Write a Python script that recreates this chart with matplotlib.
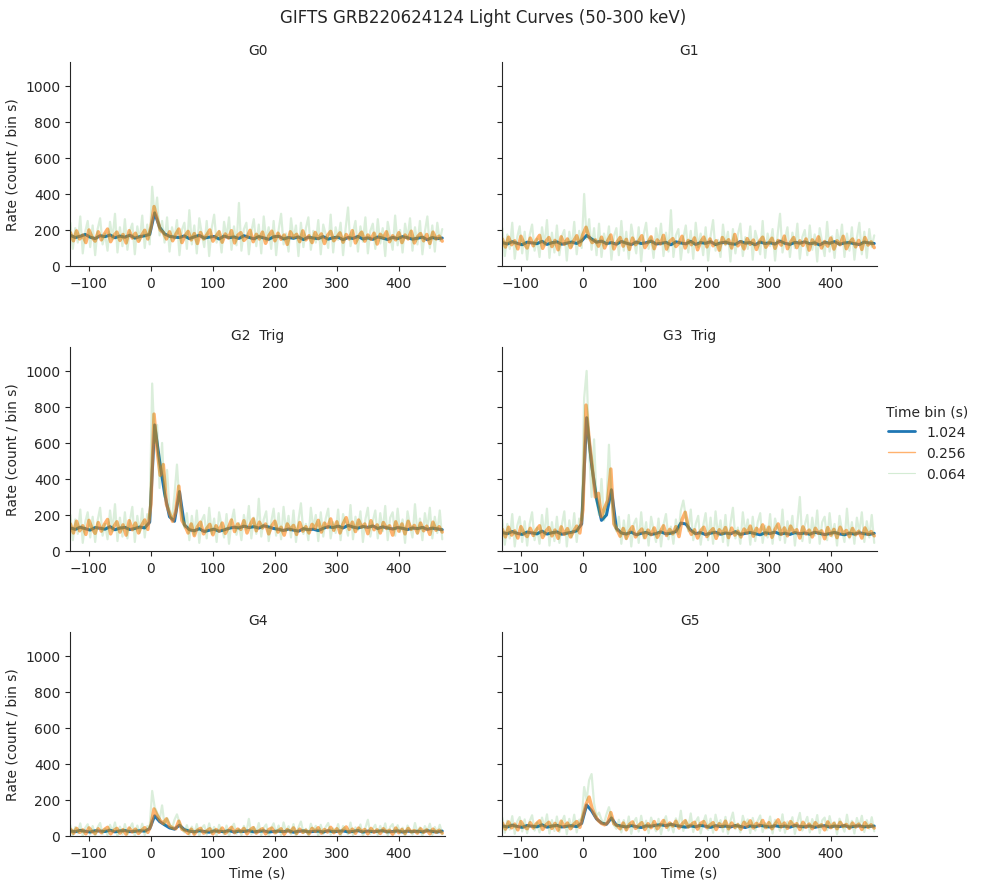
#!/usr/bin/env python3
"""Light-curve grid for GRB220624124 (GIFTS detectors G0-G5, 50-300 keV)."""

import matplotlib

matplotlib.use("Agg")
import matplotlib.pyplot as plt
import numpy as np
import seaborn as sns
from matplotlib.lines import Line2D

DETECTORS = ["G0", "G1", "G2", "G3", "G4", "G5"]
TRIGGERED = ["G2", "G3"]
BIN_LABELS = ["1.024", "0.256", "0.064"]

T_START = -130.0
T_STEP = {"1.024": 8.0, "0.256": 5.0, "0.064": 4.0}

# ---- G0 ----
G0_1024 = [170, 158, 165, 175, 160, 152, 168, 163, 172, 157,
           166, 160, 171, 155, 163, 168,
           175, 295, 215, 178, 165, 160,
           158, 167, 152, 162, 170, 155, 160, 164, 150, 166,
           157, 161, 153, 168, 159, 151, 163, 156, 148, 162,
           165, 150, 158, 154, 161, 147, 160, 155, 152, 163,
           149, 157, 160, 146, 158, 153, 164, 150, 156, 148,
           161, 155, 147, 159, 152, 163, 157, 149, 154, 160,
           146, 158, 152, 155]
G0_256 = [185, 140, 195, 150, 172, 130, 200, 160, 138, 190,
          145, 178, 205, 135, 168, 188, 142, 175, 128, 196,
          155, 182, 137, 170, 198, 150,
          215, 330, 265, 200, 185, 150,
          190, 140, 175, 205, 130, 168, 192, 145, 180, 125,
          186, 150, 172, 200, 138, 165, 190, 132, 178, 155,
          196, 128, 170, 185, 142, 160, 198, 135, 176, 150,
          188, 126, 167, 193, 140, 182, 148, 172, 120, 190,
          158, 176, 135, 195, 145, 168, 130, 186, 152, 178,
          125, 170, 192, 140, 160, 184, 132, 175, 150, 196,
          128, 165, 188, 138, 172, 148, 182, 122, 176, 155,
          190, 135, 168, 145, 185, 130, 172, 150, 193, 128,
          162, 180, 140, 175, 125, 188, 150, 166, 138]
G0_064 = [240, 95, 210, 130, 275, 70, 190, 250, 105, 225,
          60, 205, 265, 120, 180, 85, 245, 150, 290, 75,
          215, 110, 260, 90, 195, 235, 65, 220, 140, 280,
          100, 230,
          120, 440, 280, 380, 170, 250, 130,
          270, 80, 215, 150, 255, 60, 200, 240, 95, 310,
          120, 225, 70, 265, 180, 105, 250, 55, 210, 285,
          130, 195, 75, 245, 160, 270, 90, 220, 115, 350,
          85, 205, 240, 65, 190, 260, 110, 230, 70, 275,
          140, 215, 95, 250, 60, 200, 290, 120, 180, 80,
          265, 150, 225, 55, 240, 105, 210, 270, 90, 195,
          130, 255, 65, 230, 175, 100, 285, 75, 215, 145,
          240, 60, 205, 325, 110, 185, 250, 80, 220, 135,
          270, 70, 195, 235, 95, 260, 125, 210, 55, 245,
          165, 90, 280, 115, 200, 75, 235, 150, 265, 85,
          215, 120, 250, 65, 190, 275, 100, 225, 80, 240,
          140, 205]

# ---- G1 ----
G1_1024 = [130, 122, 135, 126, 118, 132, 128, 124, 137, 120,
           129, 134, 121, 127, 133, 125,
           140, 170, 150, 132, 138, 124,
           130, 121, 136, 127, 119, 133, 125, 129, 138, 122,
           126, 131, 118, 134, 128, 123, 137, 120, 130, 126,
           135, 119, 128, 132, 124, 121, 136, 127, 130, 118,
           133, 125, 129, 122, 138, 126, 120, 131, 127, 134,
           123, 129, 117, 132, 126, 135, 121, 128, 130, 124,
           119, 133, 127, 125]
G1_256 = [150, 105, 160, 118, 140, 95, 165, 125, 100, 155,
          112, 145, 170, 98, 135, 158, 108, 142, 90, 162,
          120, 150, 102, 138, 168, 115,
          175, 215, 160, 130, 145, 110,
          160, 100, 140, 172, 95, 132, 158, 110, 148, 92,
          155, 118, 138, 168, 102, 130, 162, 96, 145, 122,
          170, 94, 136, 152, 108, 128, 165, 100, 142, 118,
          156, 90, 134, 160, 106, 150, 112, 140, 88, 158,
          124, 146, 100, 175, 112, 135, 95, 152, 120, 144,
          92, 138, 160, 104, 128, 154, 98, 142, 116, 166,
          96, 132, 158, 102, 140, 114, 150, 88, 145, 120,
          162, 100, 136, 110, 155, 94, 140, 118, 165, 96,
          130, 150, 106, 142, 92, 158, 116, 134, 102]
G1_064 = [210, 55, 175, 95, 240, 40, 160, 220, 70, 190,
          35, 170, 230, 85, 150, 50, 215, 115, 255, 45,
          185, 75, 225, 60, 165, 200, 30, 190, 105, 245,
          65, 195,
          100, 400, 150, 260, 90, 210, 60,
          235, 50, 180, 115, 220, 35, 165, 210, 60, 250,
          85, 190, 40, 230, 145, 70, 215, 25, 175, 240,
          95, 160, 45, 210, 125, 235, 55, 185, 80, 310,
          50, 170, 205, 35, 155, 225, 75, 195, 40, 240,
          105, 180, 60, 215, 30, 165, 255, 85, 145, 50,
          230, 115, 190, 25, 205, 70, 175, 235, 55, 160,
          95, 220, 35, 195, 140, 65, 250, 45, 180, 110,
          205, 30, 170, 290, 75, 150, 215, 50, 185, 100,
          235, 40, 160, 200, 60, 225, 90, 175, 25, 210,
          130, 55, 245, 80, 165, 45, 200, 115, 230, 50,
          180, 85, 215, 35, 155, 240, 65, 190, 45, 205,
          105, 170]

# ---- G2 (trigger) ----
G2_1024 = [128, 120, 132, 124, 116, 130, 126, 121, 135, 118,
           127, 131, 119, 125, 133, 128,
           160, 700, 500, 320, 190, 165, 330, 145,
           118, 112, 124, 108, 115, 121, 110, 117, 126, 132,
           128, 138, 130, 135, 127, 140, 133, 125, 120, 114,
           122, 116, 110, 124, 118, 121, 113, 126, 135, 130,
           138, 128, 142, 133, 127, 136, 131, 139, 125, 134,
           128, 122, 130, 126, 119, 128, 124, 131, 120, 127,
           123, 118]
G2_256 = [150, 100, 165, 112, 140, 92, 170, 125, 98, 158,
          110, 148, 175, 95, 135, 162, 105, 145, 88, 168,
          118, 155, 100, 142, 172, 120,
          260, 760, 560, 420, 480, 260, 210, 165, 220, 360, 170, 140,
          100, 150, 85, 135, 160, 95, 125, 148, 90, 140,
          110, 155, 98, 130, 172, 108, 150, 120, 168, 100,
          145, 178, 112, 160, 128, 150, 95, 140, 165, 105,
          132, 88, 150, 118, 142, 92, 158, 110, 135, 100,
          148, 125, 170, 105, 155, 130, 178, 115, 162, 100,
          150, 185, 120, 160, 108, 172, 132, 150, 96, 168,
          118, 145, 100, 158, 125, 140, 88, 162, 110, 150,
          95, 165, 120, 142, 100, 155, 112, 138, 92, 160,
          115, 135, 105]
G2_064 = [200, 60, 175, 95, 230, 45, 160, 215, 75, 190,
          50, 170, 240, 85, 150, 65, 225, 110, 260, 55,
          185, 80, 215, 70, 165, 245, 50, 195, 100, 235,
          75, 205,
          180, 930, 600, 700, 350, 600, 300, 450, 230, 180, 310, 480, 270, 200, 130, 210,
          60, 195, 90, 225, 45, 170, 200, 70, 240, 95,
          180, 50, 215, 140, 75, 205, 40, 165, 230, 90,
          155, 60, 200, 120, 250, 70, 185, 95, 290, 80,
          175, 220, 55, 160, 235, 85, 210, 65, 245, 110,
          195, 75, 225, 50, 170, 265, 95, 150, 60, 240,
          125, 200, 55, 215, 80, 180, 235, 70, 160, 100,
          230, 60, 205, 150, 85, 255, 65, 190, 115, 220,
          50, 175, 240, 80, 165, 225, 70, 210, 110, 250,
          60, 185, 215, 85, 235, 105, 175, 45, 220, 140,
          75, 260, 95, 180, 60, 210, 125, 240, 70, 190,
          100, 225, 65]

# ---- G3 (trigger) ----
G3_1024 = [102, 96, 108, 98, 92, 105, 100, 95, 110, 94,
           101, 106, 93, 99, 104, 112,
           150, 740, 480, 290, 170, 200, 340, 125,
           100, 94, 105, 90, 98, 103, 92, 97, 106, 95,
           99, 108, 155, 150, 115, 96, 102, 91, 99, 104,
           93, 100, 95, 107, 92, 98, 103, 96, 90, 101,
           97, 105, 94, 99, 92, 102, 96, 100, 93, 104,
           98, 91, 97, 103, 95, 90, 99, 94, 101, 96,
           92, 98]
G3_256 = [120, 78, 132, 88, 112, 72, 135, 98, 80, 126,
          86, 118, 140, 75, 108, 130, 84, 116, 70, 134,
          92, 124, 78, 110, 138, 100,
          230, 810, 620, 470, 300, 320, 190, 240, 280, 455, 150, 120,
          82, 125, 70, 110, 135, 78, 102, 122, 74, 116,
          90, 128, 76, 108, 140, 86, 120, 95, 135, 80,
          175, 215, 130, 92, 118, 72, 112, 132, 80, 106,
          124, 70, 118, 96, 130, 74, 127, 88, 110, 78,
          122, 100, 138, 82, 126, 104, 145, 90, 132, 76,
          120, 150, 92, 128, 84, 138, 104, 118, 72, 134,
          94, 116, 78, 126, 98, 112, 68, 130, 88, 120,
          74, 132, 96, 114, 80, 125, 90, 110, 72, 128,
          92, 108, 84]
G3_064 = [175, 35, 150, 70, 205, 25, 140, 190, 50, 165,
          30, 150, 215, 60, 130, 40, 200, 85, 235, 30,
          160, 55, 190, 45, 145, 220, 25, 170, 75, 210,
          50, 180,
          170, 850, 1000, 560, 300, 620, 280, 200, 400, 170, 260, 590, 280, 150, 110, 190,
          40, 170, 65, 200, 25, 150, 180, 45, 215, 70,
          160, 30, 190, 115, 50, 180, 25, 145, 205, 65,
          135, 40, 175, 95, 225, 280, 190, 110, 230, 60,
          150, 195, 35, 140, 210, 60, 185, 40, 220, 85,
          170, 50, 200, 30, 150, 240, 70, 130, 40, 215,
          100, 175, 35, 190, 55, 160, 210, 45, 140, 75,
          205, 40, 180, 125, 60, 230, 45, 165, 90, 195,
          30, 155, 300, 55, 145, 200, 45, 185, 85, 225,
          40, 160, 190, 60, 210, 80, 150, 30, 195, 115,
          50, 235, 70, 160, 40, 185, 100, 215, 50, 165,
          75, 200, 45]

# ---- G4 ----
G4_1024 = [28, 24, 31, 26, 22, 29, 27, 25, 32, 23,
           28, 30, 24, 26, 29, 27,
           40, 112, 80, 62, 45, 38, 60, 35,
           27, 23, 29, 25, 21, 28, 26, 24, 30, 22,
           27, 25, 29, 23, 26, 28, 22, 25, 27, 24,
           29, 21, 26, 28, 23, 25, 27, 22, 29, 24,
           26, 28, 23, 25, 30, 22, 27, 24, 26, 29,
           23, 25, 28, 22, 27, 24, 26, 23, 29, 25,
           22, 27]
G4_256 = [38, 15, 42, 20, 34, 12, 45, 25, 14, 40,
          18, 36, 48, 12, 30, 42, 16, 35, 10, 44,
          22, 38, 14, 32, 46, 20,
          60, 150, 115, 85, 70, 95, 55, 45, 40, 82, 38, 30,
          14, 38, 10, 32, 42, 16, 28, 40, 12, 36,
          20, 44, 15, 30, 48, 18, 38, 24, 42, 12,
          34, 46, 16, 30, 40, 12, 35, 44, 18, 28,
          40, 10, 36, 22, 45, 14, 38, 20, 32, 12,
          42, 25, 46, 16, 36, 22, 48, 18, 40, 14,
          34, 50, 20, 38, 15, 44, 24, 36, 12, 42,
          20, 34, 14, 40, 22, 32, 10, 44, 18, 36,
          14, 42, 22, 30, 16, 40, 20, 34, 12, 38,
          20, 32, 16]
G4_064 = [60, 5, 50, 15, 70, 0, 45, 65, 10, 55,
          2, 48, 72, 12, 40, 5, 62, 25, 75, 0,
          52, 10, 66, 8, 44, 70, 0, 58, 18, 68,
          6, 55,
          50, 250, 160, 130, 90, 170, 60, 100, 70, 40, 90, 120, 75, 40, 20, 60,
          5, 52, 12, 66, 0, 45, 60, 8, 70, 15,
          50, 2, 62, 30, 10, 58, 0, 44, 68, 12,
          40, 5, 56, 20, 95, 10, 50, 18, 72, 4,
          46, 64, 0, 42, 70, 14, 58, 6, 75, 22,
          54, 10, 66, 0, 48, 80, 16, 40, 4, 68,
          28, 56, 2, 62, 12, 50, 72, 8, 42, 20,
          66, 0, 55, 35, 10, 74, 5, 48, 24, 64,
          0, 45, 90, 12, 40, 62, 6, 56, 20, 70,
          4, 50, 66, 14, 60, 18, 46, 0, 58, 30,
          8, 72, 16, 48, 2, 55, 26, 68, 6, 50,
          18, 62, 10]

# ---- G5 ----
G5_1024 = [56, 50, 60, 53, 48, 58, 54, 51, 62, 49,
           55, 59, 50, 54, 57, 52,
           70, 172, 140, 95, 72, 65, 100, 60,
           55, 50, 58, 52, 47, 56, 54, 60, 62, 57,
           65, 58, 53, 49, 56, 51, 59, 54, 48, 57,
           52, 55, 50, 58, 53, 47, 56, 51, 59, 54,
           50, 57, 52, 55, 49, 58, 53, 51, 56, 48,
           54, 57, 50, 55, 52, 58, 49, 54, 56, 51,
           53, 55]
G5_256 = [72, 38, 78, 45, 66, 34, 80, 52, 40, 74,
          44, 68, 84, 36, 60, 76, 42, 70, 32, 82,
          50, 72, 40, 64, 80, 48,
          110, 175, 216, 150, 110, 85, 70, 62, 75, 130, 68, 58,
          40, 72, 34, 64, 78, 42, 58, 74, 36, 68,
          46, 80, 40, 62, 86, 48, 72, 55, 82, 44,
          66, 84, 50, 64, 76, 38, 70, 80, 46, 60,
          74, 36, 68, 52, 82, 40, 72, 48, 62, 38,
          76, 54, 84, 44, 70, 56, 86, 46, 74, 40,
          66, 90, 50, 72, 42, 80, 56, 68, 36, 76,
          48, 66, 40, 74, 52, 62, 34, 78, 46, 70,
          40, 76, 52, 64, 42, 72, 50, 66, 36, 74,
          48, 62, 44]
G5_064 = [100, 18, 85, 35, 110, 12, 80, 105, 25, 92,
          15, 82, 115, 30, 75, 20, 102, 48, 120, 14,
          88, 28, 108, 22, 78, 112, 10, 95, 40, 118,
          20, 90,
          90, 272, 200, 310, 344, 180, 110, 130, 90, 70, 120, 160, 100, 60, 40, 90,
          20, 88, 32, 108, 12, 78, 100, 24, 112, 40,
          85, 16, 102, 60, 26, 95, 10, 76, 110, 30,
          72, 20, 98, 50, 140, 28, 90, 45, 125, 22,
          80, 104, 14, 74, 115, 34, 96, 18, 118, 55,
          88, 24, 106, 12, 82, 130, 38, 70, 20, 112,
          62, 92, 16, 100, 30, 84, 114, 22, 72, 42,
          108, 14, 90, 66, 28, 120, 18, 80, 52, 104,
          12, 76, 128, 30, 70, 106, 20, 94, 46, 116,
          16, 86, 102, 32, 110, 44, 78, 10, 96, 60,
          24, 118, 38, 84, 14, 100, 54, 112, 22, 88,
          40, 104, 26]

RATES = {
    "G0": {"1.024": G0_1024, "0.256": G0_256, "0.064": G0_064},
    "G1": {"1.024": G1_1024, "0.256": G1_256, "0.064": G1_064},
    "G2": {"1.024": G2_1024, "0.256": G2_256, "0.064": G2_064},
    "G3": {"1.024": G3_1024, "0.256": G3_256, "0.064": G3_064},
    "G4": {"1.024": G4_1024, "0.256": G4_256, "0.064": G4_064},
    "G5": {"1.024": G5_1024, "0.256": G5_256, "0.064": G5_064},
}

# the curves are sampled sparser than the real bins, so the finer ones get
# a heavier stroke to fill out the band the way the dense data does
LINE_STYLE = {
    "1.024": dict(color="#1f77b4", linewidth=2.2, alpha=1.0),
    "0.256": dict(color="#ff7f0e", linewidth=2.5, alpha=0.6),
    "0.064": dict(color="#2ca02c", linewidth=1.6, alpha=0.17),
}
LEGEND_STYLE = {
    "1.024": dict(color="#1f77b4", linewidth=2.0, alpha=1.0),
    "0.256": dict(color="#ff7f0e", linewidth=1.0, alpha=0.6),
    "0.064": dict(color="#2ca02c", linewidth=0.8, alpha=0.2),
}


def plot_grid(output="out.png"):
    sns.set_style("ticks")
    fig, axes = plt.subplots(3, 2, figsize=(9.81, 8.87), sharex=True, sharey=True)

    for ax, det in zip(axes.flat, DETECTORS):
        for b in BIN_LABELS:
            rate = np.asarray(RATES[det][b], dtype=float)
            t = T_START + T_STEP[b] * np.arange(len(rate))
            ax.plot(t, rate, **LINE_STYLE[b])
        title = f"{det}  Trig" if det in TRIGGERED else det
        ax.set_title(title, fontsize=10)
        ax.tick_params(labelbottom=True, labelsize=10)

    axes[0, 0].set_xlim(-130.5, 474.5)
    axes[0, 0].set_ylim(0, 1133)
    axes[0, 0].set_yticks([0, 200, 400, 600, 800, 1000])
    axes[0, 0].set_xticks([-100, 0, 100, 200, 300, 400])

    for ax in axes[:, 0]:
        ax.set_ylabel("Rate (count / bin s)", fontsize=10)
    for ax in axes[-1, :]:
        ax.set_xlabel("Time (s)", fontsize=10)

    sns.despine(fig)

    handles = [Line2D([], [], **LEGEND_STYLE[b]) for b in BIN_LABELS]
    fig.legend(handles, BIN_LABELS, title="Time bin (s)", loc="center left",
               bbox_to_anchor=(0.89, 0.5), frameon=False, fontsize=10,
               title_fontsize=10)

    fig.suptitle("GIFTS GRB220624124 Light Curves (50-300 keV)", fontsize=12,
                 x=0.492, y=0.99)
    fig.subplots_adjust(left=0.0714, right=0.894, top=0.929, bottom=0.0564,
                        wspace=0.152, hspace=0.397)
    fig.savefig(output, dpi=100, facecolor="white")
    plt.close(fig)


if __name__ == "__main__":
    plot_grid()
